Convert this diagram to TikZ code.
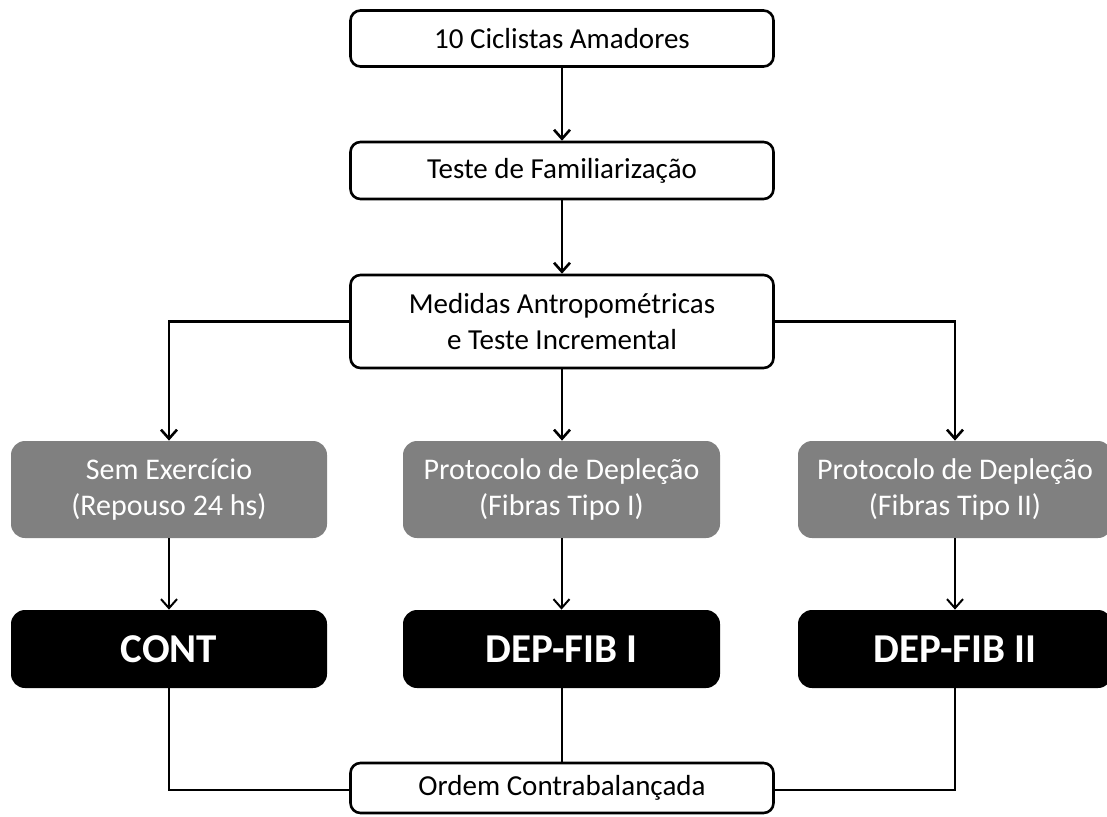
\documentclass[tikz,border=0pt]{standalone}
\usepackage{fontspec}
\setmainfont{Carlito}
\usetikzlibrary{arrows.meta}
\tikzset{every picture/.style={line width=0.75pt}}
\tikzset{
  whitebox/.style={draw, line width=2.6pt, rounded corners=10pt, fill=white, align=center,
    inner sep=0pt, minimum width=423pt, font=\fontsize{29}{36}\selectfont},
  graybox/.style={fill={rgb, 255:red, 128; green, 128; blue, 128}, rounded corners=14pt, align=center,
    inner sep=0pt, minimum width=316pt, minimum height=97pt, text=white, font=\fontsize{30}{36}\selectfont},
  blackbox/.style={fill=black, rounded corners=14pt, inner sep=0pt, minimum width=316pt,
    minimum height=78pt, text=white, font=\fontsize{41}{48}\selectfont\bfseries},
  thickarrow/.style={line width=2.6pt, -{Straight Barb[length=9pt, width=16pt, line width=2.6pt]}},
  thinarrow/.style={line width=2pt, -{Straight Barb[length=9pt, width=16pt, line width=2pt]}}
}

\begin{document}
\begin{tikzpicture}[x=1pt,y=1pt,yscale=-1,xscale=1]
      \useasboundingbox (0,0) rectangle (1107,816);
      \node (ciclistas) at (562,38.5) [whitebox, minimum height=56pt] {10 Ciclistas Amadores};
      \node (familiar) at (562,170.5) [whitebox, minimum height=57pt] {Teste de Familiarização};
      \node (medidas) at (562,321.5) [whitebox, minimum height=93pt] {Medidas Antropométricas\\e Teste Incremental};
      \node (semex) at (169,489.5) [graybox] {Sem Exercício\\(Repouso 24 hs)};
      \node (depI) at (561.5,489.5) [graybox, minimum width=317pt] {Protocolo de Depleção\\(Fibras Tipo I)};
      \node (depII) at (955,489.5) [graybox, minimum width=314pt] {Protocolo de Depleção\\(Fibras Tipo II)};
      \node (cont) at (169,649) [blackbox] {CONT};
      \node (fibI) at (561.5,649) [blackbox, minimum width=317pt] {DEP-FIB I};
      \node (fibII) at (955,649) [blackbox, minimum width=314pt] {DEP-FIB II};
      \draw [line width=2.2pt] (cont.south) |- (562,790) -| (fibII.south);
      \draw [line width=2pt] (fibI.south) -- (561.5,764);
      \node (ordem) at (562,788) [whitebox, minimum height=50pt] {Ordem Contrabalançada};
      \draw [thickarrow] (ciclistas.south) -- (familiar.north);
      \draw [thickarrow] (familiar.south) -- (medidas.north);
      \draw [thickarrow] (medidas.west) -| (semex.north);
      \draw [thickarrow] (medidas.south) -- (medidas.south |- depI.north);
      \draw [thickarrow] (medidas.east) -| (depII.north);
      \draw [thinarrow] (semex.south) -- (cont.north);
      \draw [thinarrow] (depI.south) -- (fibI.north);
      \draw [thinarrow] (depII.south) -- (fibII.north);
\end{tikzpicture}
\end{document}
